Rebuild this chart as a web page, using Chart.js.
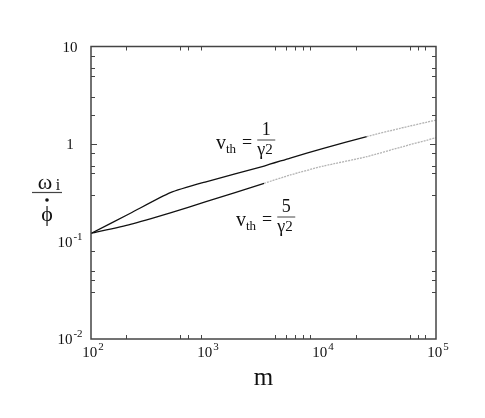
<!DOCTYPE html>
<html lang="en">
<head>
  <meta charset="UTF-8">
  <title>Growth rate vs m</title>
  <script src="https://cdn.jsdelivr.net/npm/chart.js"></script>
  <style>
    html, body {
      margin: 0;
      padding: 0;
      background: #fff;
    }
  </style>
</head>
<body>
  <canvas id="rateChart" width="485" height="418"></canvas>

  <script>
    // values (log-log)
    const massValues = [100, 220, 490, 1000, 3200, 5400, 10500, 25000, 49000, 100000];
    const rateVth1 = [0.121, 0.195, 0.317, 0.41, 0.594, 0.718, 0.904, 1.19, 1.45, 1.76];   // v_th = 1/γ²
    const rateVth5 = [0.121, 0.150, 0.197, 0.256, 0.395, 0.481, 0.594, 0.741, 0.925, 1.16]; // v_th = 5/γ²
    // beyond these m the curves are drawn faint
    const solidUntilVth1 = 25000;
    const solidUntilVth5 = 3200;

    // axis labels and the small tick marks as they appear on the frame
    const xLabelValues = [100, 1000, 10000, 100000];
    const xLabelExps = ['2', '3', '4', '5'];
    const yLabelValues = [10, 1, 0.1, 0.01];
    const yLabelText = [['10', ''], ['1', ''], ['10', '-1'], ['10', '-2']];
    const xTickValues = [200, 600, 700, 900, 4000, 5000, 6000, 7000, 8000, 20000, 60000, 70000, 80000];
    const yTickValues = [0.03, 0.04, 0.05, 0.08, 0.3, 0.5, 0.6, 0.8, 1, 2, 3, 5, 6, 8];

    const SERIF = "'Liberation Serif', 'Times New Roman', serif";
    const INK = '#111';
    const FAINT = '#b4b4b4';

    function solidOrFaint(limit) {
      return {
        borderColor: c => c.p0.parsed.x >= limit ? FAINT : INK,
        borderDash: c => c.p0.parsed.x >= limit ? [2, 1] : []
      };
    }

    // text with a raised exponent, centred as a whole on cx
    function powerLabel(ctx, base, exp, cx, baseline) {
      ctx.font = '15px ' + SERIF;
      const wb = ctx.measureText(base).width;
      ctx.font = '11px ' + SERIF;
      const we = exp ? ctx.measureText(exp).width + 1 : 0;
      const x0 = cx - (wb + we) / 2;
      ctx.textAlign = 'left';
      ctx.font = '15px ' + SERIF;
      ctx.fillText(base, x0, baseline);
      if (exp) {
        ctx.font = '11px ' + SERIF;
        ctx.fillText(exp, x0 + wb + 1, baseline - 7);
      }
    }

    function vthLabel(ctx, x, baseline, num) {
      ctx.textAlign = 'left';
      ctx.font = '20px ' + SERIF;
      ctx.fillText('v', x, baseline);
      const wv = ctx.measureText('v').width;
      ctx.font = '13px ' + SERIF;
      ctx.fillText('th', x + wv, baseline + 4);
      const wt = ctx.measureText('th').width;
      ctx.font = '18px ' + SERIF;
      const eqX = x + wv + wt + 6;
      ctx.fillText('=', eqX, baseline - 1);
      const cx = eqX + ctx.measureText('=').width + 14;
      const barY = baseline - 9;
      ctx.lineWidth = 1;
      ctx.beginPath();
      ctx.moveTo(cx - 9, barY);
      ctx.lineTo(cx + 9, barY);
      ctx.stroke();
      ctx.textAlign = 'center';
      ctx.font = '18px ' + SERIF;
      ctx.fillText(num, cx, barY - 5);
      ctx.textAlign = 'left';
      ctx.fillText('γ', cx - 9, barY + 15);
      const wg = ctx.measureText('γ').width;
      ctx.font = '15px ' + SERIF;
      ctx.fillText('2', cx - 9 + wg, barY + 14);
    }

    const framePlugin = {
      id: 'frame',
      afterDatasetsDraw(chart) {
        const { ctx, chartArea: a, scales: { x, y } } = chart;
        ctx.save();
        ctx.strokeStyle = '#444';
        ctx.fillStyle = INK;
        ctx.lineWidth = 1.5;
        ctx.strokeRect(a.left, a.top, a.right - a.left, a.bottom - a.top);

        // inward ticks on all four sides
        ctx.lineWidth = 1;
        ctx.beginPath();
        xTickValues.forEach(v => {
          const px = Math.round(x.getPixelForValue(v)) + 0.5;
          ctx.moveTo(px, a.bottom); ctx.lineTo(px, a.bottom - 4);
          ctx.moveTo(px, a.top); ctx.lineTo(px, a.top + 4);
        });
        yTickValues.forEach(v => {
          const py = Math.round(y.getPixelForValue(v)) + 0.5;
          const len = v === 1 ? 6 : 4;
          ctx.moveTo(a.left, py); ctx.lineTo(a.left + len, py);
          ctx.moveTo(a.right, py); ctx.lineTo(a.right - len, py);
        });
        ctx.stroke();

        // tick labels
        xLabelValues.forEach((v, i) => {
          powerLabel(ctx, '10', xLabelExps[i], x.getPixelForValue(v) + 2, a.bottom + 18);
        });
        yLabelValues.forEach((v, i) => {
          powerLabel(ctx, yLabelText[i][0], yLabelText[i][1], 70, y.getPixelForValue(v) + 5);
        });

        // axis titles
        ctx.textAlign = 'center';
        ctx.font = '25px ' + SERIF;
        ctx.fillText('m', (a.left + a.right) / 2, 385);

        ctx.font = '22px ' + SERIF;
        ctx.fillText('ω', 45, 189);
        ctx.font = '16px ' + SERIF;
        ctx.fillText('i', 58, 190);
        ctx.lineWidth = 1.2;
        ctx.beginPath();
        ctx.moveTo(32, 192.5); ctx.lineTo(62, 192.5);
        ctx.stroke();
        ctx.beginPath();
        ctx.arc(47, 200, 1.8, 0, Math.PI * 2);
        ctx.fill();
        ctx.font = '22px ' + SERIF;
        ctx.fillText('ϕ', 47, 221);

        // curve labels
        vthLabel(ctx, 216, 149, '1');
        vthLabel(ctx, 236, 226, '5');
        ctx.restore();
      }
    };

    new Chart(document.getElementById('rateChart'), {
      type: 'line',
      data: {
        datasets: [
          {
            label: 'v_th = 1/γ²',
            data: massValues.map((m, i) => ({ x: m, y: rateVth1[i] })),
            borderColor: INK,
            borderWidth: 1.3,
            pointRadius: 0,
            segment: solidOrFaint(solidUntilVth1)
          },
          {
            label: 'v_th = 5/γ²',
            data: massValues.map((m, i) => ({ x: m, y: rateVth5[i] })),
            borderColor: INK,
            borderWidth: 1.3,
            pointRadius: 0,
            segment: solidOrFaint(solidUntilVth5)
          }
        ]
      },
      options: {
        responsive: false,
        animation: false,
        layout: { padding: { left: 91, right: 49, top: 46.5, bottom: 79 } },
        plugins: { legend: { display: false }, tooltip: { enabled: false } },
        elements: { line: { tension: 0.2 } },
        scales: {
          x: { type: 'logarithmic', min: 100, max: 100000, display: false },
          y: { type: 'logarithmic', min: 0.01, max: 10, display: false }
        }
      },
      plugins: [framePlugin]
    });
  </script>
</body>
</html>
